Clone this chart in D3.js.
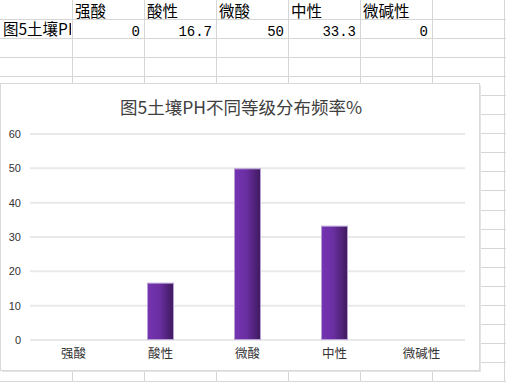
<!DOCTYPE html>
<html><head><meta charset="utf-8">
<script src="https://cdn.jsdelivr.net/npm/d3@7"></script>
<style>html,body{margin:0;padding:0;background:#fff;overflow:hidden}</style>
</head><body>
<svg id="c" width="506" height="382"></svg>
<script>
const categories = ["强酸","酸性","微酸","中性","微碱性"];
const values = [0, 16.7, 50, 33.3, 0];
const tableValues = ["0","16.7","50","33.3","0"];
const rowLabel = "图5土壤PH";
const title = "图5土壤PH不同等级分布频率%";
const yTicks = [0,10,20,30,40,50,60];

const svg = d3.select("#c");
const W = 506, H = 382;
const cjk = "'Noto Sans CJK SC','Noto Sans',sans-serif";

// spreadsheet grid
const colX = d3.range(1, 8).map(i => 72 * i);
const rowY = d3.range(0, 20).map(i => Math.round(19 + 19.05 * i) + 0.5);
const grid = svg.append("g").attr("stroke", "#d6d6d6").attr("stroke-width", 1);
colX.forEach(x => grid.append("line").attr("x1", x + 0.5).attr("x2", x + 0.5).attr("y1", 0).attr("y2", H));
rowY.forEach(y => grid.append("line").attr("x1", 0).attr("x2", W).attr("y1", y).attr("y2", y));

// table text
const tcol = d3.scaleBand().domain(d3.range(6)).range([0, 432]);
svg.append("g").selectAll("text").data(categories).join("text")
  .attr("x", (d, i) => tcol(i + 1) + 3).attr("y", 17)
  .attr("font-family", cjk).attr("font-size", 15.5).attr("fill", "#000").text(d => d);
svg.append("defs").append("clipPath").attr("id", "cl").append("rect")
  .attr("x", 0).attr("y", 19).attr("width", 71).attr("height", 19);
svg.append("text").attr("x", 3).attr("y", 35).attr("clip-path", "url(#cl)")
  .attr("font-family", cjk).attr("font-size", 15.5).attr("fill", "#000").text(rowLabel);
svg.append("g").selectAll("text").data(tableValues).join("text")
  .attr("x", (d, i) => tcol(i + 1) + 72 - 4).attr("y", 36).attr("text-anchor", "end")
  .attr("font-family", "'Liberation Mono','DejaVu Sans Mono',monospace").attr("font-size", 14)
  .attr("fill", "#000").text(d => d);

// chart frame
svg.append("rect").attr("x", 2).attr("y", 85).attr("width", 479).attr("height", 287).attr("fill", "#e4e4e4");
svg.append("rect").attr("x", 0.5).attr("y", 83.5).attr("width", 479).attr("height", 287)
  .attr("fill", "#fff").attr("stroke", "#d9d9d9").attr("stroke-width", 1);

svg.append("text").attr("x", 241).attr("y", 106).attr("text-anchor", "middle")
  .attr("dominant-baseline", "central")
  .attr("font-family", cjk).attr("font-size", 17.5).attr("fill", "#404040").text(title);

const x = d3.scaleBand().domain(categories).range([30, 465]).paddingInner(0.69).paddingOuter(0.345);
const y = d3.scaleLinear().domain([0, 60]).range([340, 134]);

// gridlines
svg.append("g").selectAll("line").data(yTicks).join("line")
  .attr("x1", 30).attr("x2", 465).attr("y1", d => y(d)).attr("y2", d => y(d))
  .attr("stroke", "#e9e9e9").attr("stroke-width", 2);

// y axis labels
const yAxis = d3.axisLeft(y).tickValues(yTicks).tickSize(0).tickPadding(0);
const ya = svg.append("g").attr("transform", "translate(21,0)").call(yAxis);
ya.select(".domain").remove();
ya.selectAll("text").attr("font-family", "'Liberation Sans',Arial,sans-serif").attr("font-size", 11).attr("fill", "#333");

// x axis labels
const xAxis = d3.axisBottom(x).tickSize(0).tickPadding(0);
const xa = svg.append("g").attr("transform", "translate(0,349)").call(xAxis);
xa.select(".domain").remove();
xa.selectAll("text").attr("font-family", cjk).attr("font-size", 12.5).attr("fill", "#333");

// gradient
const grad = svg.append("defs").append("linearGradient").attr("id", "g").attr("x1", "0").attr("x2", "1").attr("y1", "0").attr("y2", "0");
grad.append("stop").attr("offset", "0%").attr("stop-color", "#7534b2");
grad.append("stop").attr("offset", "45%").attr("stop-color", "#6a2fa2");
grad.append("stop").attr("offset", "100%").attr("stop-color", "#3f1a5d");

svg.append("g").selectAll("rect").data(values).join("rect")
  .attr("x", (d, i) => x(categories[i]) + 0.5)
  .attr("y", d => y(d) + 0.5)
  .attr("width", x.bandwidth() - 1)
  .attr("height", d => Math.max(0, y(0) - y(d) - 1))
  .attr("fill", "url(#g)").attr("stroke", d => d > 0 ? "#b7a0d6" : "none").attr("stroke-width", 1);
</script>
</body></html>
